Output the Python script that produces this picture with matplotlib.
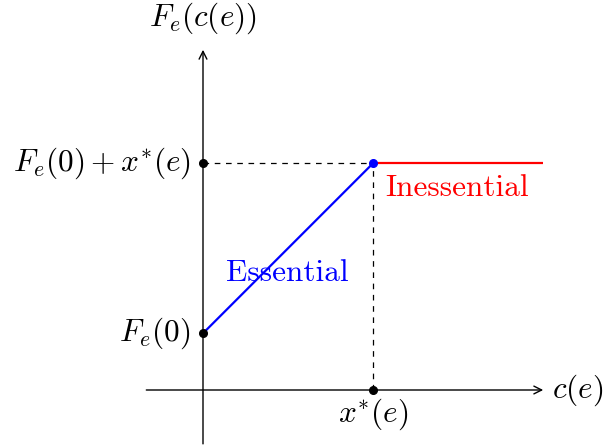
import matplotlib
matplotlib.use("Agg")
import matplotlib.pyplot as plt

plt.rcParams.update({
    "font.family": "serif",
    "font.serif": ["cmr10"],
    "mathtext.fontset": "cm",
    "axes.unicode_minus": False,
})

# diagram values (TikZ-like units)
f0 = 1.0            # F_e(0)
x_star = 3.0        # x*(e)
x_axis = (-1.0, 6.0)
y_axis = (-0.95, 6.0)
red_end = 6.0

FS = 22.5

fig = plt.figure(figsize=(6.03, 4.45), dpi=100)
ax = fig.add_axes([0, 0, 1, 1])
ax.set_xlim(-203 / 56.7, 400 / 56.7)
ax.set_ylim(-55 / 56.7, 390 / 56.7)
ax.axis("off")

arrow = dict(arrowstyle="->", color="black", lw=1.0, mutation_scale=14,
             shrinkA=0, shrinkB=0)
ax.annotate("", xy=(x_axis[1], 0), xytext=(x_axis[0], 0), arrowprops=arrow)
ax.annotate("", xy=(0, y_axis[1]), xytext=(0, y_axis[0]), arrowprops=arrow)

# dashed guides
ax.plot([0, x_star], [f0 + x_star] * 2, ls=(0, (4.5, 4.5)), color="black", lw=0.9)
ax.plot([x_star, x_star], [0, f0 + x_star], ls=(0, (4.5, 4.5)), color="black", lw=0.9)

# essential / inessential pieces
ax.plot([0, x_star], [f0, f0 + x_star], color="blue", lw=1.6, solid_capstyle="butt")
ax.plot([x_star, red_end], [f0 + x_star] * 2, color="red", lw=1.6, solid_capstyle="butt")

ax.plot([0, 0, x_star], [f0, f0 + x_star, 0], "o", color="black", ms=5.5, zorder=5)
ax.plot([x_star], [f0 + x_star], "o", color="blue", ms=5.5, zorder=6)

ax.text(0, 6.55, r"$F_e(c(e))$", ha="center", va="center", fontsize=FS)
ax.text(6.15, 0, r"$c(e)$", ha="left", va="center", fontsize=FS)
ax.text(-0.22, f0, r"$F_e(0)$", ha="right", va="center", fontsize=FS)
ax.text(-0.22, f0 + x_star, r"$F_e(0) + x^{*}(e)$", ha="right", va="center", fontsize=FS)
ax.text(x_star, -0.42, r"$x^{*}(e)$", ha="center", va="center", fontsize=FS)
ax.text(1.48, 2.07, "Essential", color="blue", ha="center", va="center", fontsize=FS)
ax.text(4.48, 3.56, "Inessential", color="red", ha="center", va="center", fontsize=FS)

fig.savefig("out.png", dpi=100, facecolor="white")
